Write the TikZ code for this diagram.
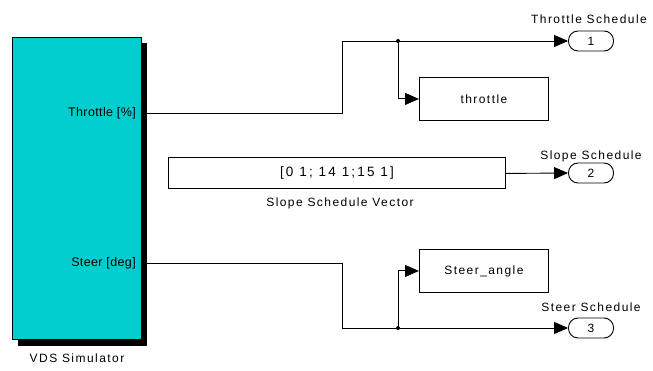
\documentclass[tikz,border=0pt]{standalone}
\usepackage{fontspec}
\setmainfont{Liberation Sans}
\newfontfamily\slfont[LetterSpace=12]{Liberation Sans}
\newfontfamily\numfont[LetterSpace=16]{Liberation Sans}
\newfontfamily\portfont[LetterSpace=3]{Liberation Sans}
\usetikzlibrary{arrows.meta}
\definecolor{vdscyan}{RGB}{0,206,206}
\tikzset{
  blk/.style={draw=black, line width=0.9pt, fill=white, inner sep=0pt, font=\slfont\fontsize{12}{14}\selectfont},
  oport/.style={draw=black, line width=0.9pt, fill=white, rounded corners=9.5pt, minimum width=45pt, minimum height=20pt, inner sep=0pt, font=\slfont\fontsize{12}{14}\selectfont},
  lbl/.style={font=\slfont\fontsize{12}{14}\selectfont, inner sep=0pt},
  plbl/.style={font=\portfont\fontsize{12.5}{14}\selectfont, inner sep=0pt},
  sig/.style={line width=0.9pt, -{Triangle[length=14pt,width=12pt]}},
  wire/.style={line width=0.9pt},
  jdot/.style={circle, fill=black, inner sep=0pt, minimum size=4pt}
}
\begin{document}
\begin{tikzpicture}[x=1pt,y=-1pt]
\useasboundingbox (0,0) rectangle (653,371);
% VDS simulator with shadow
\fill[black] (18,43) rectangle (147,346);
\node[draw=black, line width=0.9pt, fill=vdscyan, minimum width=129pt, minimum height=302pt, inner sep=0pt, anchor=north west] (vds) at (12,37) {};
\node[lbl] (vdslbl) at (77,358) {VDS Simulator};
\node[plbl, anchor=east] (thrp) at (136,113) {Throttle [\%]};
\node[plbl, anchor=east] (stp) at (136,263) {Steer [deg]};
\coordinate (throut) at (141,113);
\coordinate (stout) at (141,263);
% blocks
\node[blk, minimum width=129pt, minimum height=43pt, anchor=north west] (thr) at (419,77) {throttle};
\node[blk, minimum width=129pt, minimum height=43pt, anchor=north west] (sta) at (419,249) {Steer\_angle};
\node[blk, minimum width=337pt, minimum height=31pt, anchor=north west, font=\numfont\fontsize{13.5}{15}\selectfont] (slope) at (168,157.5) {[0 1; 14 1;15 1]};
\node[lbl] (slopelbl) at (340,203) {Slope Schedule Vector};
% outports
\node[oport] (o1) at (591,41) {1};
\node[oport] (o2) at (591,173) {2};
\node[oport] (o3) at (591,328) {3};
\node[lbl] (o1l) at (589,19) {Throttle Schedule};
\node[lbl] (o2l) at (591,156) {Slope Schedule};
\node[lbl] (o3l) at (591,307) {Steer Schedule};
% junctions
\node[jdot] (j1) at (398,41) {};
\node[jdot] (j3) at (398,328) {};
% wires
\draw[wire] (throut) -- (342,113) -- (342,41) -- (j1.center);
\draw[sig] (j1.center) -- (o1.west);
\draw[sig] (j1.center) |- (thr.west);
\draw[sig] (slope.east) -- (o2.west);
\draw[wire] (stout) -- (342,263) -- (342,328) -- (j3.center);
\draw[sig] (j3.center) -- (o3.west);
\draw[sig] (j3.center) |- (sta.west);
\end{tikzpicture}
\end{document}
